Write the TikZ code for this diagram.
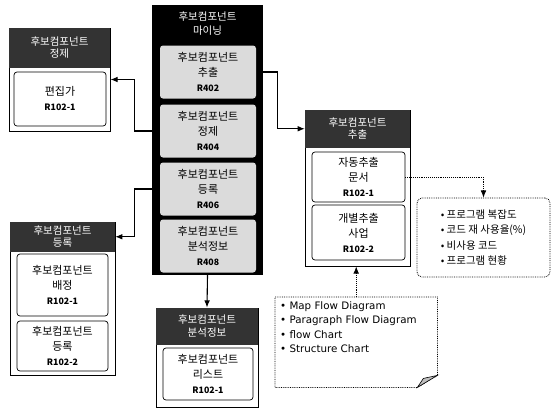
\documentclass[tikz,border=0pt]{standalone}
\usepackage{fontspec}
\setmainfont{Noto Sans CJK KR}
\newfontfamily\notefont{DejaVu Sans}
\usetikzlibrary{arrows.meta,positioning}
\newcommand{\rid}[1]{{\bfseries\fontsize{8.8}{10}\selectfont #1}}

\begin{document}
\begin{tikzpicture}[x=1pt,y=-1pt,
  every node/.style={align=center,inner sep=2pt,font=\fontsize{11}{15}\selectfont},
  arr/.style={-{Latex[length=2.5mm,width=2mm]},line width=1.1pt},
  darr/.style={-{Latex[length=2.5mm,width=2mm]},densely dotted,line width=0.9pt},
  grp/.style={draw,line width=0.9pt,fill=white},
  ttl/.style={fill=black!80,text=white,font=\fontsize{10.5}{12.5}\selectfont},
  item/.style={draw,rounded corners=3pt,line width=0.7pt,fill=white},
  mine/.style={fill=black!14,rounded corners=3pt,minimum width=96pt,minimum height=53pt}]
\useasboundingbox (0,0) rectangle (552,410);
% mining column
\node[fill=black,minimum width=111pt,minimum height=270pt] (cbox) at (207.5,140) {};
\node[text=white,font=\fontsize{10.5}{14}\selectfont] (ctitle) at (207.5,24) {후보컴포넌트\\마이닝};
\node[mine] (m1) at (208,72) {후보컴포넌트\\추출\\\rid{R402}};
\node[mine] (m2) at (208,131) {후보컴포넌트\\정제\\\rid{R404}};
\node[mine] (m3) at (208,189) {후보컴포넌트\\등록\\\rid{R406}};
\node[mine] (m4) at (208,246) {후보컴포넌트\\분석정보\\\rid{R408}};
% refine
\node[grp,minimum width=101pt,minimum height=103pt] (jgrp) at (59.5,79.5) {};
\node[ttl,anchor=north,minimum width=101pt,minimum height=40pt] (jttl) at (jgrp.north) {후보컴포넌트\\정제};
\node[item,minimum width=92pt,minimum height=54pt] (j1) at (60,99) {편집가\\\rid{R102-1}};
% register
\node[grp,minimum width=105pt,minimum height=153pt] (dgrp) at (62.5,298.5) {};
\node[ttl,anchor=north,minimum width=105pt,minimum height=30pt] (dttl) at (dgrp.north) {후보컴포넌트\\등록};
\node[item,minimum width=91pt,minimum height=62pt] (d1) at (62.5,285) {후보컴포넌트\\배정\\\rid{R102-1}};
\node[item,minimum width=91pt,minimum height=50pt] (d2) at (62.5,346) {후보컴포넌트\\등록\\\rid{R102-2}};
% analysis info
\node[grp,minimum width=102pt,minimum height=99pt] (bgrp) at (207,357.5) {};
\node[ttl,anchor=north,minimum width=102pt,minimum height=37pt] (bttl) at (bgrp.north) {후보컴포넌트\\분석정보};
\node[item,minimum width=90pt,minimum height=52pt] (b1) at (208,374) {후보컴포넌트\\리스트\\\rid{R102-1}};
% extract
\node[grp,minimum width=105pt,minimum height=156pt] (cgrp) at (357.5,188) {};
\node[ttl,anchor=north,minimum width=105pt,minimum height=38pt] (cttl) at (cgrp.north) {후보컴포넌트\\추출};
\node[item,minimum width=93pt,minimum height=50pt] (c1) at (358.5,177) {자동추출\\문서\\\rid{R102-1}};
\node[item,minimum width=93pt,minimum height=55pt] (c2) at (358.5,232.5) {개별추출\\사업\\\rid{R102-2}};
% metrics
\node[draw,densely dotted,line width=0.8pt,rounded corners=5pt,minimum width=133pt,minimum height=79pt,align=left,font=\fontsize{10.5}{15.5}\selectfont] (bul) at (483.5,237.5) {• 프로그램 복잡도\\• 코드 재 사용율(\%)\\• 비사용 코드\\• 프로그램 현황};
% note
\node[anchor=north west,inner sep=0pt,minimum width=162pt] (note) at (275,297) {\parbox[t][90pt][t]{152pt}{\notefont\fontsize{10.3}{14.5}\selectfont\vspace*{4pt}• Map Flow Diagram\\• Paragraph Flow Diagram\\• flow Chart\\• Structure Chart}};
\draw[densely dotted,line width=0.8pt] (note.north west) -- (note.north east) -- ([yshift=12pt]note.south east) -- ([xshift=-20pt]note.south east) -- (note.south west) -- cycle;
\draw[line width=0.6pt,fill=black!25] ([yshift=12pt]note.south east) -- ([xshift=-20pt]note.south east) -- ([xshift=-14pt,yshift=9pt]note.south east) -- cycle;
% connectors
\draw[arr] (m2.west -| cbox.west) -- ++(-17,0) |- (jgrp.east);
\draw[arr] (m3.west -| cbox.west) -- ++(-17,0) |- (dttl.east);
\draw[arr] (cbox.south) -- (bgrp.north);
\draw[arr] (m1.east -| cbox.east) -- ++(14,0) |- (cttl.west);
\draw[darr] (c1.east) -| (bul.north);
\draw[darr] (note.north) -- (note.north |- cgrp.south);
\end{tikzpicture}
\end{document}
